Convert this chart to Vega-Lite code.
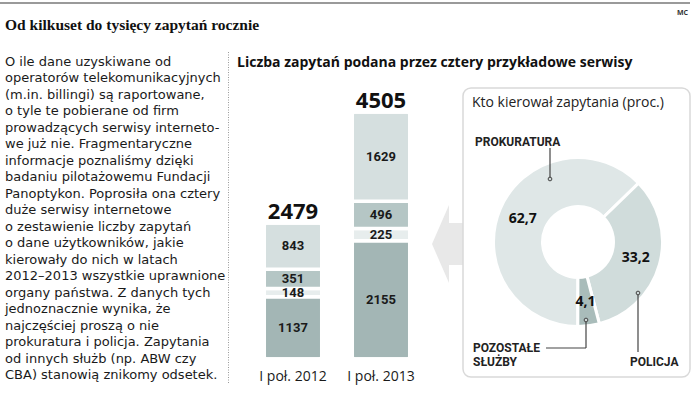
{
  "$schema": "https://vega.github.io/schema/vega-lite/v6.json",
  "width": 698,
  "height": 396,
  "autosize": "none",
  "padding": 0,
  "background": "white",
  "config": {
    "view": {"stroke": null},
    "locale": {"number": {"decimal": ",", "thousands": "\u00a0", "grouping": [3], "currency": ["", " zł"]}},
    "text": {"font": "Open Sans", "color": "#1a1a1a"}
  },
  "resolve": {"scale": {"x": "independent", "y": "independent", "color": "independent", "theta": "independent"}},
  "layer": [
    {
      "data": {"values": [{}]},
      "layer": [
        {
          "mark": {"type": "rule", "stroke": "#9a9a9a", "strokeWidth": 2},
          "encoding": {
            "x": {"datum": 0, "type": "quantitative", "scale": {"type": "linear", "domain": [0, 698], "range": [0, 698], "nice": false, "zero": false}, "axis": null},
            "x2": {"datum": 690},
            "y": {"datum": 3, "type": "quantitative", "scale": {"type": "linear", "domain": [0, 396], "range": [0, 396], "nice": false, "zero": false}, "axis": null}
          }
        },
        {
          "mark": {"type": "text", "font": "Liberation Serif", "fontWeight": "bold", "fontSize": 15.5, "align": "left", "baseline": "alphabetic", "text": "Od kilkuset do tysięcy zapytań rocznie", "color": "#111"},
          "encoding": {"x": {"datum": 5, "type": "quantitative"}, "y": {"datum": 29.5, "type": "quantitative"}}
        },
        {
          "mark": {"type": "text", "font": "Open Sans", "fontWeight": "bold", "fontSize": 7, "align": "left", "baseline": "alphabetic", "text": "MC", "color": "#333"},
          "encoding": {"x": {"datum": 677, "type": "quantitative"}, "y": {"datum": 15, "type": "quantitative"}}
        },
        {
          "mark": {"type": "rule", "stroke": "#9a9a9a", "strokeWidth": 1, "strokeDash": [1, 1.5]},
          "encoding": {"x": {"datum": 228.5, "type": "quantitative"}, "y": {"datum": 52, "type": "quantitative"}, "y2": {"datum": 383}}
        },
        {
          "mark": {"type": "text", "font": "Open Sans", "fontWeight": "bold", "fontSize": 14, "align": "left", "baseline": "middle", "text": "Liczba zapytań podana przez cztery przykładowe serwisy", "color": "#111"},
          "encoding": {"x": {"datum": 237, "type": "quantitative"}, "y": {"datum": 63, "type": "quantitative"}}
        },
        {
          "mark": {"type": "point", "filled": true, "color": "#e8e8e8", "opacity": 1, "strokeWidth": 0, "size": 6400, "shape": "M-0.475,0L-0.05,-0.975L-0.05,-0.525L0.525,-0.525L0.525,0.525L-0.05,0.525L-0.05,0.975Z"},
          "encoding": {"x": {"datum": 451, "type": "quantitative"}, "y": {"datum": 244, "type": "quantitative"}}
        },
        {
          "mark": {"type": "rect", "fill": "white", "stroke": "#d9d9d9", "strokeWidth": 1.5, "cornerRadius": 8},
          "encoding": {"x": {"datum": 463, "type": "quantitative"}, "x2": {"datum": 690}, "y": {"datum": 88, "type": "quantitative"}, "y2": {"datum": 377}}
        },
        {
          "mark": {"type": "text", "font": "Open Sans", "fontSize": 14, "align": "left", "baseline": "middle", "text": "Kto kierował zapytania (proc.)", "color": "#222"},
          "encoding": {"x": {"datum": 472, "type": "quantitative"}, "y": {"datum": 103, "type": "quantitative"}}
        }
      ]
    },
    {
      "data": {"values": [
        {"wiersz": 1, "tekst": "O ile dane uzyskiwane od"},
        {"wiersz": 2, "tekst": "operatorów telekomunikacyjnych"},
        {"wiersz": 3, "tekst": "(m.in. billingi) są raportowane,"},
        {"wiersz": 4, "tekst": "o tyle te pobierane od firm"},
        {"wiersz": 5, "tekst": "prowadzących serwisy interneto-"},
        {"wiersz": 6, "tekst": "we już nie. Fragmentaryczne"},
        {"wiersz": 7, "tekst": "informacje poznaliśmy dzięki"},
        {"wiersz": 8, "tekst": "badaniu pilotażowemu Fundacji"},
        {"wiersz": 9, "tekst": "Panoptykon. Poprosiła ona cztery"},
        {"wiersz": 10, "tekst": "duże serwisy internetowe"},
        {"wiersz": 11, "tekst": "o zestawienie liczby zapytań"},
        {"wiersz": 12, "tekst": "o dane użytkowników, jakie"},
        {"wiersz": 13, "tekst": "kierowały do nich w latach"},
        {"wiersz": 14, "tekst": "2012–2013 wszystkie uprawnione"},
        {"wiersz": 15, "tekst": "organy państwa. Z danych tych"},
        {"wiersz": 16, "tekst": "jednoznacznie wynika, że"},
        {"wiersz": 17, "tekst": "najczęściej proszą o nie"},
        {"wiersz": 18, "tekst": "prokuratura i policja. Zapytania"},
        {"wiersz": 19, "tekst": "od innych służb (np. ABW czy"},
        {"wiersz": 20, "tekst": "CBA) stanowią znikomy odsetek."}
      ]},
      "mark": {"type": "text", "align": "left", "baseline": "middle", "font": "DejaVu Sans", "fontSize": 13, "color": "#1a1a1a"},
      "encoding": {
        "x": {"datum": 5, "type": "quantitative", "scale": {"type": "linear", "domain": [0, 698], "range": [0, 698], "nice": false, "zero": false}, "axis": null},
        "y": {"field": "wiersz", "type": "quantitative", "scale": {"type": "linear", "domain": [1, 20], "range": [62, 375], "nice": false, "zero": false}, "axis": null},
        "text": {"field": "tekst", "type": "nominal"}
      }
    },
    {
      "data": {"values": [
        {"okres": "I poł. 2012", "serwis": "A", "liczba": 1137},
        {"okres": "I poł. 2012", "serwis": "B", "liczba": 148},
        {"okres": "I poł. 2012", "serwis": "C", "liczba": 351},
        {"okres": "I poł. 2012", "serwis": "D", "liczba": 843},
        {"okres": "I poł. 2013", "serwis": "A", "liczba": 2155},
        {"okres": "I poł. 2013", "serwis": "B", "liczba": 225},
        {"okres": "I poł. 2013", "serwis": "C", "liczba": 496},
        {"okres": "I poł. 2013", "serwis": "D", "liczba": 1629}
      ]},
      "encoding": {
        "x": {
          "field": "okres", "type": "nominal",
          "scale": {"type": "band", "domain": ["I poł. 2012", "I poł. 2013"], "range": [249, 425], "paddingInner": 0.347, "paddingOuter": 0.1735},
          "axis": null
        }
      },
      "layer": [
        {
          "mark": {"type": "bar", "stroke": "white", "strokeWidth": 3.5, "cornerRadius": 2.5},
          "encoding": {
            "y": {"field": "liczba", "type": "quantitative", "stack": "zero", "scale": {"domain": [0, 4505], "range": [359, 112], "nice": false, "zero": true}, "axis": null},
            "color": {"field": "serwis", "type": "nominal", "scale": {"domain": ["A", "B", "C", "D"], "range": ["#a3b6b5", "#e7eded", "#b5c6c5", "#d5dfdf"]}, "legend": null},
            "order": {"field": "serwis", "type": "nominal", "sort": "ascending"}
          }
        },
        {
          "mark": {"type": "text", "font": "Roboto", "fontWeight": "bold", "fontSize": 13, "baseline": "middle", "color": "#1a1a1a"},
          "encoding": {
            "y": {"field": "liczba", "type": "quantitative", "stack": "zero", "bandPosition": 0.5},
            "detail": {"field": "serwis", "type": "nominal"},
            "order": {"field": "serwis", "type": "nominal", "sort": "ascending"},
            "text": {"field": "liczba", "type": "quantitative", "format": "d"}
          }
        },
        {
          "mark": {"type": "text", "font": "Open Sans", "fontWeight": "bold", "fontSize": 22, "baseline": "middle", "dy": -11, "color": "#111"},
          "encoding": {
            "y": {"aggregate": "sum", "field": "liczba", "type": "quantitative"},
            "text": {"aggregate": "sum", "field": "liczba", "type": "quantitative", "format": "d"}
          }
        },
        {
          "transform": [{"filter": "datum.serwis === 'A'"}],
          "mark": {"type": "text", "font": "Open Sans", "fontSize": 14, "baseline": "middle", "dy": 18, "color": "#1a1a1a"},
          "encoding": {
            "y": {"datum": 0, "type": "quantitative"},
            "text": {"field": "okres", "type": "nominal"}
          }
        }
      ]
    },
    {
      "data": {"values": [
        {"kto": "Prokuratura", "proc": 62.7},
        {"kto": "Policja", "proc": 33.2},
        {"kto": "Pozostałe służby", "proc": 4.1}
      ]},
      "encoding": {
        "x": {"datum": 578, "type": "quantitative", "scale": {"type": "linear", "domain": [0, 698], "range": [0, 698], "nice": false, "zero": false}, "axis": null},
        "y": {"datum": 242, "type": "quantitative", "scale": {"type": "linear", "domain": [0, 396], "range": [0, 396], "nice": false, "zero": false}, "axis": null},
        "theta": {"field": "proc", "type": "quantitative", "stack": true, "scale": {"type": "linear", "domain": [0, 100], "range": [0.8, 7.0832], "zero": true}},
        "order": {"field": "kto", "type": "nominal", "sort": "ascending"}
      },
      "layer": [
        {
          "mark": {"type": "arc", "outerRadius": 84.5, "innerRadius": 35.5, "stroke": "white", "strokeWidth": 3},
          "encoding": {
            "color": {"field": "kto", "type": "nominal", "scale": {"domain": ["Policja", "Pozostałe służby", "Prokuratura"], "range": ["#d0dcdb", "#a9bcba", "#dfe7e7"]}, "legend": null}
          }
        },
        {
          "mark": {"type": "text", "radius": 60, "font": "Open Sans", "fontWeight": "bold", "fontSize": 14, "color": "#111"},
          "encoding": {
            "detail": {"field": "kto", "type": "nominal"},
            "text": {"field": "proc", "type": "quantitative", "format": ".1f"}
          }
        }
      ]
    },
    {
      "data": {"values": [{}]},
      "encoding": {
        "x": {"type": "quantitative", "scale": {"type": "linear", "domain": [0, 698], "range": [0, 698], "nice": false, "zero": false}, "axis": null},
        "y": {"type": "quantitative", "scale": {"type": "linear", "domain": [0, 396], "range": [0, 396], "nice": false, "zero": false}, "axis": null}
      },
      "layer": [
        {
          "mark": {"type": "rule", "stroke": "#444", "strokeWidth": 1.2},
          "encoding": {"x": {"datum": 550, "type": "quantitative"}, "y": {"datum": 148, "type": "quantitative"}, "y2": {"datum": 179}}
        },
        {
          "mark": {"type": "rule", "stroke": "#444", "strokeWidth": 1.2},
          "encoding": {"x": {"datum": 546, "type": "quantitative"}, "x2": {"datum": 586}, "y": {"datum": 348, "type": "quantitative"}}
        },
        {
          "mark": {"type": "rule", "stroke": "#444", "strokeWidth": 1.2},
          "encoding": {"x": {"datum": 586, "type": "quantitative"}, "y": {"datum": 320, "type": "quantitative"}, "y2": {"datum": 348}}
        },
        {
          "mark": {"type": "rule", "stroke": "#444", "strokeWidth": 1.2},
          "encoding": {"x": {"datum": 638, "type": "quantitative"}, "y": {"datum": 293, "type": "quantitative"}, "y2": {"datum": 352}}
        },
        {
          "mark": {"type": "point", "shape": "circle", "size": 14, "filled": true, "fill": "#cfd9d8", "stroke": "#444", "strokeWidth": 1, "opacity": 1},
          "encoding": {"x": {"datum": 550, "type": "quantitative"}, "y": {"datum": 179, "type": "quantitative"}}
        },
        {
          "mark": {"type": "point", "shape": "circle", "size": 14, "filled": true, "fill": "#cfd9d8", "stroke": "#444", "strokeWidth": 1, "opacity": 1},
          "encoding": {"x": {"datum": 586, "type": "quantitative"}, "y": {"datum": 320, "type": "quantitative"}}
        },
        {
          "mark": {"type": "point", "shape": "circle", "size": 14, "filled": true, "fill": "#cfd9d8", "stroke": "#444", "strokeWidth": 1, "opacity": 1},
          "encoding": {"x": {"datum": 638, "type": "quantitative"}, "y": {"datum": 293, "type": "quantitative"}}
        },
        {
          "mark": {"type": "text", "font": "Roboto", "fontWeight": "bold", "fontSize": 12, "align": "left", "baseline": "middle", "text": "PROKURATURA", "color": "#222"},
          "encoding": {"x": {"datum": 475, "type": "quantitative"}, "y": {"datum": 142, "type": "quantitative"}}
        },
        {
          "mark": {"type": "text", "font": "Roboto", "fontWeight": "bold", "fontSize": 12, "align": "left", "baseline": "middle", "text": "POZOSTAŁE", "color": "#222"},
          "encoding": {"x": {"datum": 473, "type": "quantitative"}, "y": {"datum": 348, "type": "quantitative"}}
        },
        {
          "mark": {"type": "text", "font": "Roboto", "fontWeight": "bold", "fontSize": 12, "align": "left", "baseline": "middle", "text": "SŁUŻBY", "color": "#222"},
          "encoding": {"x": {"datum": 473, "type": "quantitative"}, "y": {"datum": 362, "type": "quantitative"}}
        },
        {
          "mark": {"type": "text", "font": "Roboto", "fontWeight": "bold", "fontSize": 12, "align": "left", "baseline": "middle", "text": "POLICJA", "color": "#222"},
          "encoding": {"x": {"datum": 630, "type": "quantitative"}, "y": {"datum": 362, "type": "quantitative"}}
        }
      ]
    }
  ]
}
